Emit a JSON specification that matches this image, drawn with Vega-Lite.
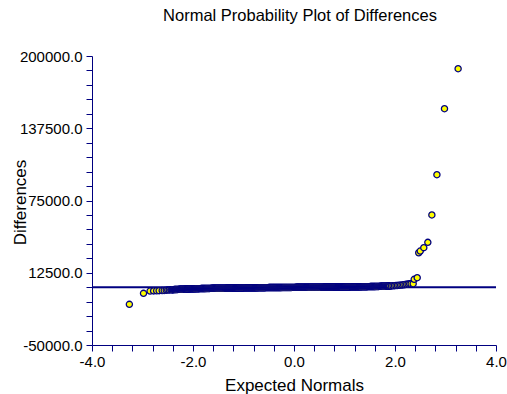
{
  "$schema": "https://vega.github.io/schema/vega-lite/v6.json",
  "autosize": "none",
  "width": 404,
  "height": 289,
  "padding": {"left": 92, "top": 56, "right": 11, "bottom": 49},
  "background": "white",
  "config": {"view": {"stroke": null}, "font": "Liberation Sans"},
  "title": {"text": "Normal Probability Plot of Differences", "font": "Liberation Sans", "fontSize": 16.5, "fontWeight": "normal", "color": "black", "anchor": "middle", "frame": "group", "baseline": "alphabetic", "offset": 12, "dx": 6},
  "datasets": {
    "pts": [
      {"z":-3.26,"d":-14800},{"z":-2.98,"d":-5300},{"z":-2.85,"d":-3300},{"z":-2.78,"d":-3200},{"z":-2.72,"d":-3100},{"z":-2.67,"d":-3000},{"z":-2.61,"d":-2900},{"z":-2.57,"d":-2800},{"z":-2.53,"d":-2600},{"z":-2.50,"d":-2500},{"z":-2.47,"d":-2400},{"z":-2.44,"d":-2300},
      {"z":-2.42,"d":-2200},{"z":-2.41,"d":-2175},{"z":-2.40,"d":-2150},{"z":-2.39,"d":-2125},{"z":-2.38,"d":-2100},{"z":-2.37,"d":-2075},{"z":-2.36,"d":-2050},{"z":-2.35,"d":-2025},{"z":-2.34,"d":-2000},{"z":-2.33,"d":-1975},{"z":-2.32,"d":-1950},{"z":-2.31,"d":-1925},{"z":-2.30,"d":-1900},{"z":-2.29,"d":-1890},{"z":-2.28,"d":-1880},{"z":-2.27,"d":-1865},{"z":-2.26,"d":-1850},{"z":-2.25,"d":-1825},{"z":-2.24,"d":-1800},{"z":-2.23,"d":-1780},{"z":-2.22,"d":-1760},{"z":-2.21,"d":-1740},{"z":-2.20,"d":-1720},{"z":-2.19,"d":-1700},{"z":-2.18,"d":-1680},{"z":-2.17,"d":-1665},{"z":-2.16,"d":-1650},{"z":-2.15,"d":-1630},{"z":-2.14,"d":-1610},{"z":-2.13,"d":-1595},{"z":-2.12,"d":-1580},{"z":-2.11,"d":-1560},{"z":-2.10,"d":-1540},{"z":-2.09,"d":-1520},{"z":-2.08,"d":-1500},{"z":-2.07,"d":-1485},{"z":-2.06,"d":-1470},{"z":-2.05,"d":-1455},{"z":-2.04,"d":-1440},{"z":-2.03,"d":-1420},{"z":-2.02,"d":-1400},{"z":-2.01,"d":-1385},{"z":-2.00,"d":-1370},
      {"z":-1.99,"d":-1360},{"z":-1.98,"d":-1350},{"z":-1.97,"d":-1340},{"z":-1.96,"d":-1330},{"z":-1.95,"d":-1320},{"z":-1.94,"d":-1310},{"z":-1.93,"d":-1300},{"z":-1.92,"d":-1290},{"z":-1.91,"d":-1280},{"z":-1.90,"d":-1270},{"z":-1.89,"d":-1260},{"z":-1.88,"d":-1250},{"z":-1.87,"d":-1240},{"z":-1.86,"d":-1230},{"z":-1.85,"d":-1220},{"z":-1.84,"d":-1210},{"z":-1.83,"d":-1200},{"z":-1.82,"d":-1190},{"z":-1.81,"d":-1180},{"z":-1.80,"d":-1170},{"z":-1.79,"d":-1160},{"z":-1.78,"d":-1150},{"z":-1.77,"d":-1140},{"z":-1.76,"d":-1130},{"z":-1.75,"d":-1120},{"z":-1.74,"d":-1110},{"z":-1.73,"d":-1100},{"z":-1.72,"d":-1090},{"z":-1.71,"d":-1080},{"z":-1.70,"d":-1070},{"z":-1.69,"d":-1060},{"z":-1.68,"d":-1050},{"z":-1.67,"d":-1040},{"z":-1.66,"d":-1030},{"z":-1.65,"d":-1020},{"z":-1.64,"d":-1010},{"z":-1.63,"d":-1000},{"z":-1.62,"d":-990},{"z":-1.61,"d":-980},{"z":-1.60,"d":-970},{"z":-1.59,"d":-960},{"z":-1.58,"d":-950},{"z":-1.57,"d":-940},{"z":-1.56,"d":-930},{"z":-1.55,"d":-920},{"z":-1.54,"d":-910},{"z":-1.53,"d":-900},{"z":-1.52,"d":-890},{"z":-1.51,"d":-880},{"z":-1.50,"d":-870},
      {"z":-1.49,"d":-865},{"z":-1.48,"d":-860},{"z":-1.47,"d":-855},{"z":-1.46,"d":-850},{"z":-1.45,"d":-845},{"z":-1.44,"d":-840},{"z":-1.43,"d":-835},{"z":-1.42,"d":-830},{"z":-1.41,"d":-825},{"z":-1.40,"d":-820},{"z":-1.39,"d":-815},{"z":-1.38,"d":-810},{"z":-1.37,"d":-805},{"z":-1.36,"d":-800},{"z":-1.35,"d":-795},{"z":-1.34,"d":-790},{"z":-1.33,"d":-785},{"z":-1.32,"d":-780},{"z":-1.31,"d":-775},{"z":-1.30,"d":-770},{"z":-1.29,"d":-765},{"z":-1.28,"d":-760},{"z":-1.27,"d":-755},{"z":-1.26,"d":-750},{"z":-1.25,"d":-745},{"z":-1.24,"d":-740},{"z":-1.23,"d":-735},{"z":-1.22,"d":-730},{"z":-1.21,"d":-725},{"z":-1.20,"d":-720},{"z":-1.19,"d":-715},{"z":-1.18,"d":-710},{"z":-1.17,"d":-705},{"z":-1.16,"d":-700},{"z":-1.15,"d":-695},{"z":-1.14,"d":-690},{"z":-1.13,"d":-685},{"z":-1.12,"d":-680},{"z":-1.11,"d":-675},{"z":-1.10,"d":-670},{"z":-1.09,"d":-665},{"z":-1.08,"d":-660},{"z":-1.07,"d":-655},{"z":-1.06,"d":-650},{"z":-1.05,"d":-645},{"z":-1.04,"d":-640},{"z":-1.03,"d":-630},{"z":-1.02,"d":-620},{"z":-1.01,"d":-610},{"z":-1.00,"d":-600},
      {"z":-0.99,"d":-595},{"z":-0.98,"d":-590},{"z":-0.97,"d":-585},{"z":-0.96,"d":-580},{"z":-0.95,"d":-575},{"z":-0.94,"d":-570},{"z":-0.93,"d":-565},{"z":-0.92,"d":-560},{"z":-0.91,"d":-555},{"z":-0.90,"d":-550},{"z":-0.89,"d":-545},{"z":-0.88,"d":-540},{"z":-0.87,"d":-535},{"z":-0.86,"d":-530},{"z":-0.85,"d":-525},{"z":-0.84,"d":-520},{"z":-0.83,"d":-515},{"z":-0.82,"d":-510},{"z":-0.81,"d":-505},{"z":-0.80,"d":-500},{"z":-0.79,"d":-495},{"z":-0.78,"d":-490},{"z":-0.77,"d":-485},{"z":-0.76,"d":-480},{"z":-0.75,"d":-475},{"z":-0.74,"d":-470},{"z":-0.73,"d":-465},{"z":-0.72,"d":-460},{"z":-0.71,"d":-455},{"z":-0.70,"d":-450},{"z":-0.69,"d":-445},{"z":-0.68,"d":-440},{"z":-0.67,"d":-435},{"z":-0.66,"d":-430},{"z":-0.65,"d":-425},{"z":-0.64,"d":-420},{"z":-0.63,"d":-415},{"z":-0.62,"d":-410},{"z":-0.61,"d":-405},{"z":-0.60,"d":-400},{"z":-0.59,"d":-395},{"z":-0.58,"d":-390},{"z":-0.57,"d":-385},{"z":-0.56,"d":-380},{"z":-0.55,"d":-375},{"z":-0.54,"d":-370},{"z":-0.53,"d":-365},{"z":-0.52,"d":-360},{"z":-0.51,"d":-355},{"z":-0.50,"d":-350},
      {"z":-0.49,"d":-346},{"z":-0.48,"d":-342},{"z":-0.47,"d":-338},{"z":-0.46,"d":-334},{"z":-0.45,"d":-330},{"z":-0.44,"d":-326},{"z":-0.43,"d":-322},{"z":-0.42,"d":-318},{"z":-0.41,"d":-314},{"z":-0.40,"d":-310},{"z":-0.39,"d":-306},{"z":-0.38,"d":-302},{"z":-0.37,"d":-298},{"z":-0.36,"d":-294},{"z":-0.35,"d":-290},{"z":-0.34,"d":-286},{"z":-0.33,"d":-282},{"z":-0.32,"d":-278},{"z":-0.31,"d":-274},{"z":-0.30,"d":-270},{"z":-0.29,"d":-266},{"z":-0.28,"d":-262},{"z":-0.27,"d":-258},{"z":-0.26,"d":-254},{"z":-0.25,"d":-250},{"z":-0.24,"d":-246},{"z":-0.23,"d":-242},{"z":-0.22,"d":-238},{"z":-0.21,"d":-234},{"z":-0.20,"d":-230},{"z":-0.19,"d":-226},{"z":-0.18,"d":-222},{"z":-0.17,"d":-218},{"z":-0.16,"d":-214},{"z":-0.15,"d":-210},{"z":-0.14,"d":-206},{"z":-0.13,"d":-202},{"z":-0.12,"d":-198},{"z":-0.11,"d":-194},{"z":-0.10,"d":-190},{"z":-0.09,"d":-186},{"z":-0.08,"d":-182},{"z":-0.07,"d":-178},{"z":-0.06,"d":-174},{"z":-0.05,"d":-170},{"z":-0.04,"d":-166},{"z":-0.03,"d":-162},{"z":-0.02,"d":-158},{"z":-0.01,"d":-154},{"z":0.00,"d":-150},
      {"z":0.01,"d":-146},{"z":0.02,"d":-142},{"z":0.03,"d":-138},{"z":0.04,"d":-134},{"z":0.05,"d":-130},{"z":0.06,"d":-126},{"z":0.07,"d":-122},{"z":0.08,"d":-118},{"z":0.09,"d":-114},{"z":0.10,"d":-110},{"z":0.11,"d":-106},{"z":0.12,"d":-102},{"z":0.13,"d":-98},{"z":0.14,"d":-94},{"z":0.15,"d":-90},{"z":0.16,"d":-86},{"z":0.17,"d":-82},{"z":0.18,"d":-78},{"z":0.19,"d":-74},{"z":0.20,"d":-70},{"z":0.21,"d":-66},{"z":0.22,"d":-62},{"z":0.23,"d":-58},{"z":0.24,"d":-54},{"z":0.25,"d":-50},{"z":0.26,"d":-46},{"z":0.27,"d":-42},{"z":0.28,"d":-38},{"z":0.29,"d":-34},{"z":0.30,"d":-30},{"z":0.31,"d":-26},{"z":0.32,"d":-22},{"z":0.33,"d":-18},{"z":0.34,"d":-14},{"z":0.35,"d":-10},{"z":0.36,"d":-6},{"z":0.37,"d":-2},{"z":0.38,"d":2},{"z":0.39,"d":6},{"z":0.40,"d":10},{"z":0.41,"d":14},{"z":0.42,"d":18},{"z":0.43,"d":22},{"z":0.44,"d":26},{"z":0.45,"d":30},{"z":0.46,"d":34},{"z":0.47,"d":38},{"z":0.48,"d":42},{"z":0.49,"d":46},{"z":0.50,"d":50},
      {"z":0.51,"d":53},{"z":0.52,"d":56},{"z":0.53,"d":59},{"z":0.54,"d":62},{"z":0.55,"d":65},{"z":0.56,"d":68},{"z":0.57,"d":71},{"z":0.58,"d":74},{"z":0.59,"d":77},{"z":0.60,"d":80},{"z":0.61,"d":83},{"z":0.62,"d":86},{"z":0.63,"d":89},{"z":0.64,"d":92},{"z":0.65,"d":95},{"z":0.66,"d":98},{"z":0.67,"d":101},{"z":0.68,"d":104},{"z":0.69,"d":107},{"z":0.70,"d":110},{"z":0.71,"d":113},{"z":0.72,"d":116},{"z":0.73,"d":119},{"z":0.74,"d":122},{"z":0.75,"d":125},{"z":0.76,"d":128},{"z":0.77,"d":131},{"z":0.78,"d":134},{"z":0.79,"d":137},{"z":0.80,"d":140},{"z":0.81,"d":143},{"z":0.82,"d":146},{"z":0.83,"d":149},{"z":0.84,"d":152},{"z":0.85,"d":155},{"z":0.86,"d":158},{"z":0.87,"d":161},{"z":0.88,"d":164},{"z":0.89,"d":167},{"z":0.90,"d":170},{"z":0.91,"d":173},{"z":0.92,"d":176},{"z":0.93,"d":179},{"z":0.94,"d":182},{"z":0.95,"d":185},{"z":0.96,"d":188},{"z":0.97,"d":191},{"z":0.98,"d":194},{"z":0.99,"d":197},{"z":1.00,"d":200},
      {"z":1.01,"d":205},{"z":1.02,"d":210},{"z":1.03,"d":215},{"z":1.04,"d":220},{"z":1.05,"d":228},{"z":1.06,"d":235},{"z":1.07,"d":243},{"z":1.08,"d":250},{"z":1.09,"d":255},{"z":1.10,"d":260},{"z":1.11,"d":265},{"z":1.12,"d":270},{"z":1.13,"d":278},{"z":1.14,"d":285},{"z":1.15,"d":293},{"z":1.16,"d":300},{"z":1.17,"d":305},{"z":1.18,"d":310},{"z":1.19,"d":315},{"z":1.20,"d":320},{"z":1.21,"d":328},{"z":1.22,"d":335},{"z":1.23,"d":343},{"z":1.24,"d":350},{"z":1.25,"d":355},{"z":1.26,"d":360},{"z":1.27,"d":365},{"z":1.28,"d":370},{"z":1.29,"d":378},{"z":1.30,"d":385},{"z":1.31,"d":393},{"z":1.32,"d":400},{"z":1.33,"d":405},{"z":1.34,"d":410},{"z":1.35,"d":415},{"z":1.36,"d":420},{"z":1.37,"d":428},{"z":1.38,"d":435},{"z":1.39,"d":443},{"z":1.40,"d":450},{"z":1.41,"d":455},{"z":1.42,"d":460},{"z":1.43,"d":465},{"z":1.44,"d":470},{"z":1.45,"d":478},{"z":1.46,"d":485},{"z":1.47,"d":493},{"z":1.48,"d":500},{"z":1.49,"d":505},{"z":1.50,"d":510},{"z":1.51,"d":515},{"z":1.52,"d":520},{"z":1.53,"d":530},{"z":1.54,"d":540},{"z":1.55,"d":550},{"z":1.56,"d":560},{"z":1.57,"d":570},{"z":1.58,"d":580},{"z":1.59,"d":590},{"z":1.60,"d":600},
      {"z":1.61,"d":610},{"z":1.62,"d":620},{"z":1.63,"d":630},{"z":1.64,"d":640},{"z":1.65,"d":650},{"z":1.66,"d":660},{"z":1.67,"d":675},{"z":1.68,"d":690},{"z":1.69,"d":705},{"z":1.70,"d":720},{"z":1.71,"d":735},{"z":1.72,"d":750},{"z":1.73,"d":765},{"z":1.74,"d":780},{"z":1.75,"d":795},{"z":1.76,"d":810},{"z":1.77,"d":825},{"z":1.78,"d":840},{"z":1.79,"d":855},{"z":1.80,"d":870},{"z":1.81,"d":885},{"z":1.82,"d":900},{"z":1.83,"d":915},{"z":1.84,"d":930},{"z":1.85,"d":945},{"z":1.86,"d":960},{"z":1.87,"d":975},{"z":1.88,"d":990},{"z":1.89,"d":1005},{"z":1.90,"d":1020},
      {"z":1.93,"d":1100},{"z":1.96,"d":1200},{"z":1.99,"d":1300},{"z":2.02,"d":1400},{"z":2.05,"d":1500},{"z":2.08,"d":1650},{"z":2.11,"d":1800},{"z":2.14,"d":1950},{"z":2.17,"d":2100},{"z":2.20,"d":2300},{"z":2.23,"d":2500},{"z":2.26,"d":2700},{"z":2.29,"d":2900},{"z":2.32,"d":3000},
      {"z":2.36,"d":3000},{"z":2.38,"d":6800},{"z":2.44,"d":8200},{"z":2.47,"d":29800},{"z":2.50,"d":31300},{"z":2.57,"d":34200},{"z":2.65,"d":38800},{"z":2.73,"d":62500},{"z":2.83,"d":97300},{"z":2.98,"d":154400},{"z":3.25,"d":189000}
    ],
    "ref": [{"d": 0}]
  },
  "encoding": {
    "y": {"field": "d", "type": "quantitative", "scale": {"domain": [-50000, 200000], "nice": false, "zero": false},
      "axis": {"title": "Differences", "values": [-50000,-37500,-25000,-12500,0,12500,25000,37500,50000,62500,75000,87500,100000,112500,125000,137500,150000,162500,175000,187500,200000],
        "labelExpr": "(datum.value + 50000) % 62500 == 0 ? (datum.value < 0 ? '-' : '') + format(abs(datum.value), '.1f') : ''",
        "grid": false, "domainColor": "#000080", "tickColor": "#000080", "tickSize": 6, "labelFont": "Liberation Sans", "labelFontSize": 15, "labelColor": "black", "labelPadding": 4, "labelOverlap": false, "labelBound": false, "labelFlush": false,
        "titleFont": "Liberation Sans", "titleFontSize": 17, "titleFontWeight": "normal", "titleColor": "black", "titleBaseline": "alphabetic", "titleX": -67, "titleY": 146, "titleAngle": -90}}
  },
  "layer": [
    {
      "data": {"name": "ref"},
      "mark": {"type": "rule", "color": "#000080", "strokeWidth": 2},
      "encoding": {}
    },
    {
      "data": {"name": "pts"},
      "mark": {"type": "point", "shape": "circle", "filled": false, "fill": "#FFFF00", "fillOpacity": 1, "stroke": "#000080", "strokeWidth": 1.3, "opacity": 1, "size": 38},
      "encoding": {
        "x": {"field": "z", "type": "quantitative", "scale": {"domain": [-4, 4], "nice": false, "zero": false},
          "axis": {"title": "Expected Normals", "values": [-4,-3.6,-3.2,-2.8,-2.4,-2,-1.6,-1.2,-0.8,-0.4,0,0.4,0.8,1.2,1.6,2,2.4,2.8,3.2,3.6,4],
            "labelExpr": "abs(datum.value) % 2 < 0.001 ? (datum.value < 0 ? '-' : '') + format(abs(datum.value), '.1f') : ''",
            "grid": false, "domainColor": "#000080", "tickColor": "#000080", "tickSize": 6, "labelFont": "Liberation Sans", "labelFontSize": 15, "labelColor": "black", "labelPadding": 3, "labelOverlap": false, "labelFlush": false, "labelBound": false,
            "titleFont": "Liberation Sans", "titleFontSize": 17, "titleFontWeight": "normal", "titleColor": "black", "titleBaseline": "alphabetic", "titleY": 45}}
      }
    }
  ]
}
